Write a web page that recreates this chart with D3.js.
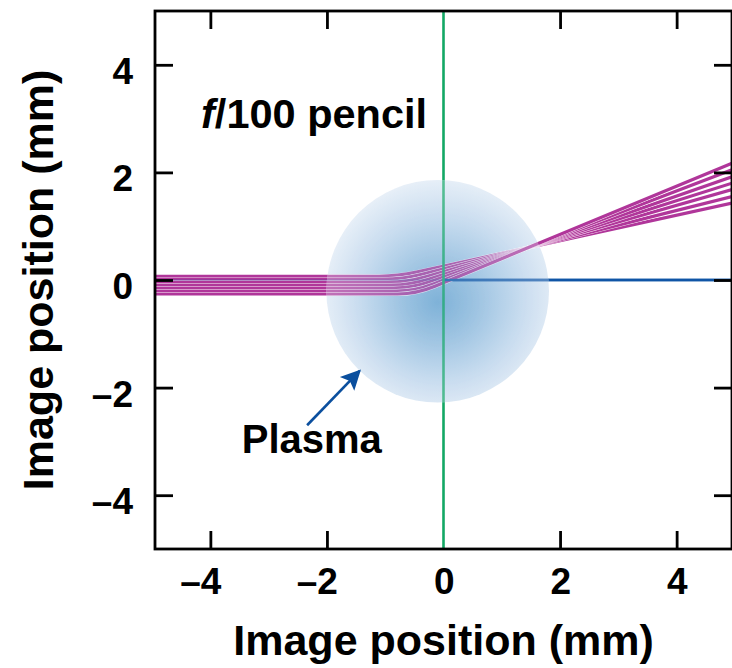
<!DOCTYPE html>
<html>
<head>
<meta charset="utf-8">
<script src="https://cdn.jsdelivr.net/npm/d3@7"></script>
<style>
  html, body { margin: 0; padding: 0; background: #fff; }
  svg { display: block; font-family: "Liberation Sans", Arial, Helvetica, sans-serif; font-weight: bold; }
</style>
</head>
<body>
<svg id="chart" width="732" height="668"></svg>
<script>
// Axis ranges and ticks (mm)
const xDomain = [-4.95, 4.95];
const yDomain = [-5, 5];
const xTicks = [-4, -2, 0, 2, 4];
const yTicks = [-4, -2, 0, 2, 4];

// Ray bundle: entry heights on the left, heights at the right edge, and the waist the rays cross
const rayStartY = [0.07, 0.015, -0.04, -0.095, -0.15, -0.205, -0.26];
const rayEndY   = [1.43, 1.55, 1.68, 1.80, 1.92, 2.05, 2.17];
const rayWaist  = [1.45, 0.6];

// Plasma blob: centre and radius (mm, radius measured along x)
const plasmaCenter = [-0.10, -0.21];
const plasmaRadius = 1.91;

// Annotations
const titleText = { x: -4.16, y: 2.83 };
const plasmaLabel = { x: -2.26, y: -3.22, text: "Plasma" };
const arrowFrom = [-2.34, -2.70];
const arrowTo   = [-1.44, -1.69];

const colors = {
  ray: "#b0369a",
  green: "#13a865",
  blue: "#0f55a6",
  arrow: "#0b4f9e",
  frame: "#000"
};

const plot = { left: 155, right: 732, top: 11, bottom: 549 };

const x = d3.scaleLinear().domain(xDomain).range([plot.left, plot.right]);
const y = d3.scaleLinear().domain(yDomain).range([plot.bottom, plot.top]);

const svg = d3.select("#chart");
const defs = svg.append("defs");

// Plot-area clip
defs.append("clipPath").attr("id", "plotClip")
  .append("rect")
  .attr("x", plot.left).attr("y", plot.top)
  .attr("width", plot.right - plot.left).attr("height", plot.bottom - plot.top);

const pr = x(plasmaRadius) - x(0);
const pcx = x(plasmaCenter[0]), pcy = y(plasmaCenter[1]);

defs.append("clipPath").attr("id", "plasmaClip")
  .append("circle").attr("cx", pcx).attr("cy", pcy).attr("r", pr);

const grad = defs.append("radialGradient").attr("id", "plasmaFill")
  .attr("cx", "0.52").attr("cy", "0.53").attr("r", "0.56")
  .attr("fx", "0.5").attr("fy", "0.55");
[["0", "#7fb2d8"], ["0.3", "#9ec4e2"], ["0.65", "#c8dcef"], ["1", "#ecf2f9"]]
  .forEach(([o, c]) => grad.append("stop").attr("offset", o).attr("stop-color", c));

defs.append("marker").attr("id", "arrowHead")
  .attr("viewBox", "0 0 10 10").attr("refX", 9).attr("refY", 5)
  .attr("markerUnits", "userSpaceOnUse")
  .attr("markerWidth", 24).attr("markerHeight", 20)
  .attr("orient", "auto")
  .append("path").attr("d", "M0,0 L10,5 L0,10 L2,5 Z").attr("fill", colors.arrow);

// Each ray runs level until it meets its exit line (through the waist), with a rounded corner
function rayPath(h, e) {
  const s = (e - rayWaist[1]) / (xDomain[1] - rayWaist[0]);
  const xk = rayWaist[0] + (h - rayWaist[1]) / s;
  const d = 0.32;
  const p = d3.path();
  p.moveTo(x(xDomain[0]), y(h));
  p.lineTo(x(xk - d), y(h));
  p.quadraticCurveTo(x(xk), y(h), x(xk + d), y(h + s * d));
  p.lineTo(x(xDomain[1]), y(e));
  return p.toString();
}

const rays = rayStartY.map((h, i) => ({ h, e: rayEndY[i] }));

function drawTraces(g) {
  // optical axis
  g.append("line")
    .attr("x1", x(xDomain[0])).attr("x2", x(xDomain[1]))
    .attr("y1", y(0)).attr("y2", y(0))
    .attr("stroke", colors.blue).attr("stroke-width", 2.6);

  const rg = g.append("g").attr("fill", "none");
  rays.forEach(r => {
    rg.append("path").attr("d", rayPath(r.h, r.e))
      .attr("stroke", "#fff").attr("stroke-width", 4.1);
    rg.append("path").attr("d", rayPath(r.h, r.e))
      .attr("stroke", colors.ray).attr("stroke-width", 3.2);
  });

  g.append("line")
    .attr("x1", x(xDomain[0])).attr("x2", x(0))
    .attr("y1", y(0)).attr("y2", y(0))
    .attr("stroke", colors.blue).attr("stroke-width", 1.2).attr("opacity", 0.35);
  g.append("line")
    .attr("x1", x(0)).attr("x2", x(xDomain[1]))
    .attr("y1", y(0)).attr("y2", y(0))
    .attr("stroke", colors.blue).attr("stroke-width", 2.6);

  // object plane
  g.append("line")
    .attr("x1", x(0)).attr("x2", x(0))
    .attr("y1", y(yDomain[0])).attr("y2", y(yDomain[1]))
    .attr("stroke", colors.green).attr("stroke-width", 2.6);
}

const plotG = svg.append("g").attr("clip-path", "url(#plotClip)");
drawTraces(plotG.append("g"));

// Plasma blob, with the traces showing through it
plotG.append("circle")
  .attr("cx", pcx).attr("cy", pcy).attr("r", pr)
  .attr("fill", "url(#plasmaFill)");
drawTraces(plotG.append("g").attr("clip-path", "url(#plasmaClip)").attr("opacity", 0.68));

// Frame
svg.append("rect")
  .attr("x", plot.left).attr("y", plot.top)
  .attr("width", plot.right - plot.left).attr("height", plot.bottom - plot.top)
  .attr("fill", "none").attr("stroke", colors.frame).attr("stroke-width", 2.8);

// Axes with inward ticks on all four sides
const fmt = d => d < 0 ? "\u2013" + Math.abs(d) : String(d);
const tickLen = 18;

const gx = svg.append("g").attr("transform", `translate(0,${plot.bottom})`)
  .call(d3.axisBottom(x).tickValues(xTicks).tickFormat(fmt).tickSizeInner(-tickLen).tickSizeOuter(0).tickPadding(0));
const gy = svg.append("g").attr("transform", `translate(${plot.left},0)`)
  .call(d3.axisLeft(y).tickValues(yTicks).tickFormat(fmt).tickSizeInner(-tickLen).tickSizeOuter(0).tickPadding(22));
const gt = svg.append("g").attr("transform", `translate(0,${plot.top})`)
  .call(d3.axisTop(x).tickValues(xTicks).tickFormat("").tickSizeInner(-tickLen).tickSizeOuter(0));
const gr = svg.append("g").attr("transform", `translate(${plot.right},0)`)
  .call(d3.axisRight(y).tickValues(yTicks).tickFormat("").tickSizeInner(-tickLen).tickSizeOuter(0));

[gx, gy, gt, gr].forEach(g => {
  g.select(".domain").remove();
  g.selectAll(".tick line").attr("stroke", colors.frame).attr("stroke-width", 2.8);
  g.selectAll("text").attr("fill", "#000").attr("font-family", null).attr("font-size", null);
});
// the object-plane line covers the zero ticks on top and bottom
gx.selectAll(".tick").filter(d => d === 0).select("line").remove();
gt.selectAll(".tick").filter(d => d === 0).select("line").remove();

gx.selectAll("text")
  .attr("font-size", 37).attr("y", 45).attr("dy", 0)
  .attr("text-anchor", "end").attr("x", 10.5);
gy.selectAll("text")
  .attr("font-size", 37).attr("dy", "0.5em");

// Axis titles
svg.append("text")
  .attr("x", x(0)).attr("y", 655)
  .attr("text-anchor", "middle").attr("font-size", 43)
  .text("Image position (mm)");
svg.append("text")
  .attr("transform", `translate(53,${y(0)}) rotate(-90)`)
  .attr("text-anchor", "middle").attr("font-size", 43)
  .text("Image position (mm)");

// Annotations
const t = svg.append("text")
  .attr("x", x(titleText.x)).attr("y", y(titleText.y))
  .attr("font-size", 41.5);
t.append("tspan").attr("font-style", "italic").text("f");
t.append("tspan").text("/100 pencil");

svg.append("line")
  .attr("x1", x(arrowFrom[0])).attr("y1", y(arrowFrom[1]))
  .attr("x2", x(arrowTo[0])).attr("y2", y(arrowTo[1]))
  .attr("stroke", colors.arrow).attr("stroke-width", 2.6)
  .attr("marker-end", "url(#arrowHead)");

svg.append("text")
  .attr("x", x(plasmaLabel.x)).attr("y", y(plasmaLabel.y))
  .attr("text-anchor", "middle").attr("font-size", 40)
  .text(plasmaLabel.text);
</script>
</body>
</html>
